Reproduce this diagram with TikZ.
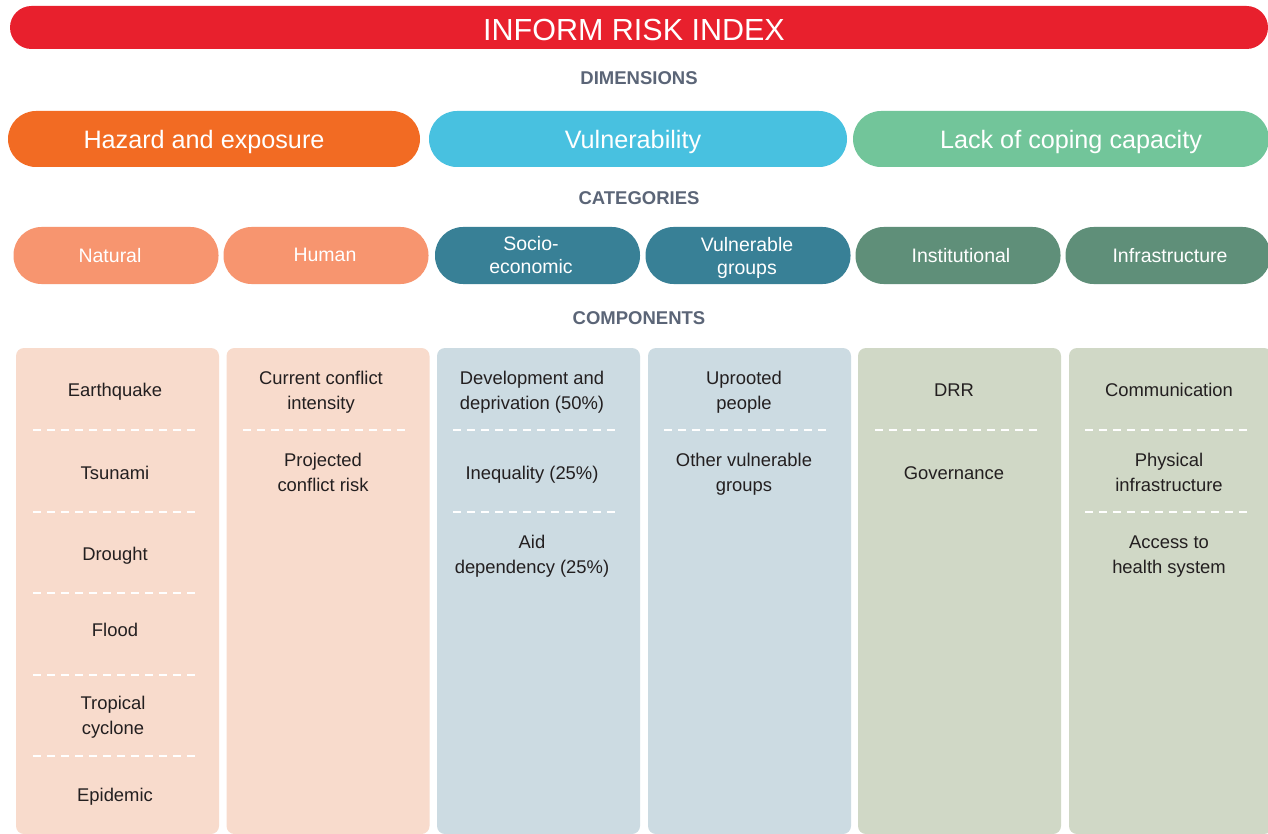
\documentclass[tikz,border=0pt]{standalone}
\usepackage{fontspec}
\setmainfont{Liberation Sans}
\definecolor{titlered}{HTML}{E8202D}
\definecolor{hazard}{HTML}{F26B23}
\definecolor{vuln}{HTML}{48C1E0}
\definecolor{coping}{HTML}{72C59A}
\definecolor{catorange}{HTML}{F7956F}
\definecolor{catteal}{HTML}{388096}
\definecolor{catgreen}{HTML}{5F8F79}
\definecolor{boxpeach}{HTML}{F8DBCC}
\definecolor{boxblue}{HTML}{CCDBE2}
\definecolor{boxgreen}{HTML}{D0D8C6}
\definecolor{headgray}{HTML}{5B6577}
\definecolor{txtdark}{HTML}{231F20}
\begin{document}
\begin{tikzpicture}[x=1pt,y=-1pt,
  pill/.style={inner sep=0pt},
  lbl/.style={inner sep=0pt, text=white, align=center, text depth=0pt},
  dimpill/.style={pill, minimum height=56pt, rounded corners=28pt},
  dimlbl/.style={lbl, font=\fontsize{25.2}{30}\selectfont},
  catpill/.style={pill, minimum height=57pt, minimum width=205pt, rounded corners=28pt},
  catlbl/.style={lbl, font=\fontsize{19.5}{23}\selectfont},
  heading/.style={inner sep=0pt, text depth=0pt, text=headgray, font=\fontsize{18.5}{20}\selectfont\bfseries},
  comp/.style={inner sep=0pt, text depth=0pt, text=txtdark, align=center, font=\fontsize{18.4}{25}\selectfont},
  compbox/.style={inner sep=0pt, minimum width=203pt, minimum height=486pt, rounded corners=8pt},
  sep/.style={draw=white, line width=1.4pt, dash pattern=on 8pt off 6pt}
]
\useasboundingbox (0,0) rectangle (1268,834);
\fill[white] (0,0) rectangle (1268,834);

% title
\node[pill, fill=titlered, minimum width=1258pt, minimum height=43pt, rounded corners=21.5pt] (title) at (639,27.5) {};
\node[lbl, font=\fontsize{30.5}{34}\selectfont] (titletext) at (634,30) {INFORM RISK INDEX};

\node[heading] (hdim) at (639,78) {DIMENSIONS};
\node[dimpill, fill=hazard, minimum width=412pt] (haz) at (214,139) {};
\node[dimpill, fill=vuln, minimum width=418pt] (vul) at (638,139) {};
\node[dimpill, fill=coping, minimum width=416pt] (cop) at (1061,139) {};
\node[dimlbl] (hazt) at (204,139) {Hazard and exposure};
\node[dimlbl] (vult) at (633,139) {Vulnerability};
\node[dimlbl] (copt) at (1071,139) {Lack of coping capacity};

\node[heading] (hcat) at (639,198) {CATEGORIES};
\node[catpill, fill=catorange] (nat) at (116,255.5) {};
\node[catpill, fill=catorange] (hum) at (326,255.5) {};
\node[catpill, fill=catteal] (soc) at (537.5,255.5) {};
\node[catpill, fill=catteal] (vgr) at (748,255.5) {};
\node[catpill, fill=catgreen] (ins) at (958,255.5) {};
\node[catpill, fill=catgreen] (inf) at (1168,255.5) {};
\node[catlbl] (natt) at (110,255) {Natural};
\node[catlbl] (humt) at (325,255) {Human};
\node[catlbl] (soct) at (531,255) {Socio-\\economic};
\node[catlbl] (vgrt) at (747,256) {Vulnerable\\groups};
\node[catlbl] (inst) at (961,255) {Institutional};
\node[catlbl] (inft) at (1170,255) {Infrastructure};

\node[heading] (hcomp) at (639,318) {COMPONENTS};

% component boxes
\node[compbox, fill=boxpeach] (b1) at (117.5,591) {};
\node[compbox, fill=boxpeach] (b2) at (328,591) {};
\node[compbox, fill=boxblue] (b3) at (538.5,591) {};
\node[compbox, fill=boxblue] (b4) at (749.5,591) {};
\node[compbox, fill=boxgreen] (b5) at (959.5,591) {};
\node[compbox, fill=boxgreen] (b6) at (1170.5,591) {};

% separators
\foreach \y in {430,512,593,675,756}{
  \draw[sep] (33,\y) -- (200,\y);
}
\draw[sep] (243,430) -- (410,430);
\draw[sep] (453,430) -- (620,430);
\draw[sep] (453,512) -- (620,512);
\draw[sep] (664,430) -- (831,430);
\draw[sep] (875,430) -- (1042,430);
\draw[sep] (1085,430) -- (1252,430);
\draw[sep] (1085,512) -- (1252,512);

% column 1 texts
\node[comp] (c1a) at (115,390) {Earthquake};
\node[comp] (c1b) at (115,473) {Tsunami};
\node[comp] (c1c) at (115,554) {Drought};
\node[comp] (c1d) at (115,630) {Flood};
\node[comp] (c1e) at (113,715) {Tropical\\cyclone};
\node[comp] (c1f) at (115,795) {Epidemic};
% column 2
\node[comp] (c2a) at (321,390.5) {Current conflict\\intensity};
\node[comp] (c2b) at (323,472.5) {Projected\\conflict risk};
% column 3
\node[comp] (c3a) at (532,390.5) {Development and\\deprivation (50\%)};
\node[comp] (c3b) at (532,473) {Inequality (25\%)};
\node[comp] (c3c) at (532,554.5) {Aid\\dependency (25\%)};
% column 4
\node[comp] (c4a) at (744,390.5) {Uprooted\\people};
\node[comp] (c4b) at (744,472.5) {Other vulnerable\\groups};
% column 5
\node[comp] (c5a) at (954,390) {DRR};
\node[comp] (c5b) at (954,473) {Governance};
% column 6
\node[comp] (c6a) at (1169,390) {Communication};
\node[comp] (c6b) at (1169,472.5) {Physical\\infrastructure};
\node[comp] (c6c) at (1169,554.5) {Access to\\health system};
\end{tikzpicture}
\end{document}
